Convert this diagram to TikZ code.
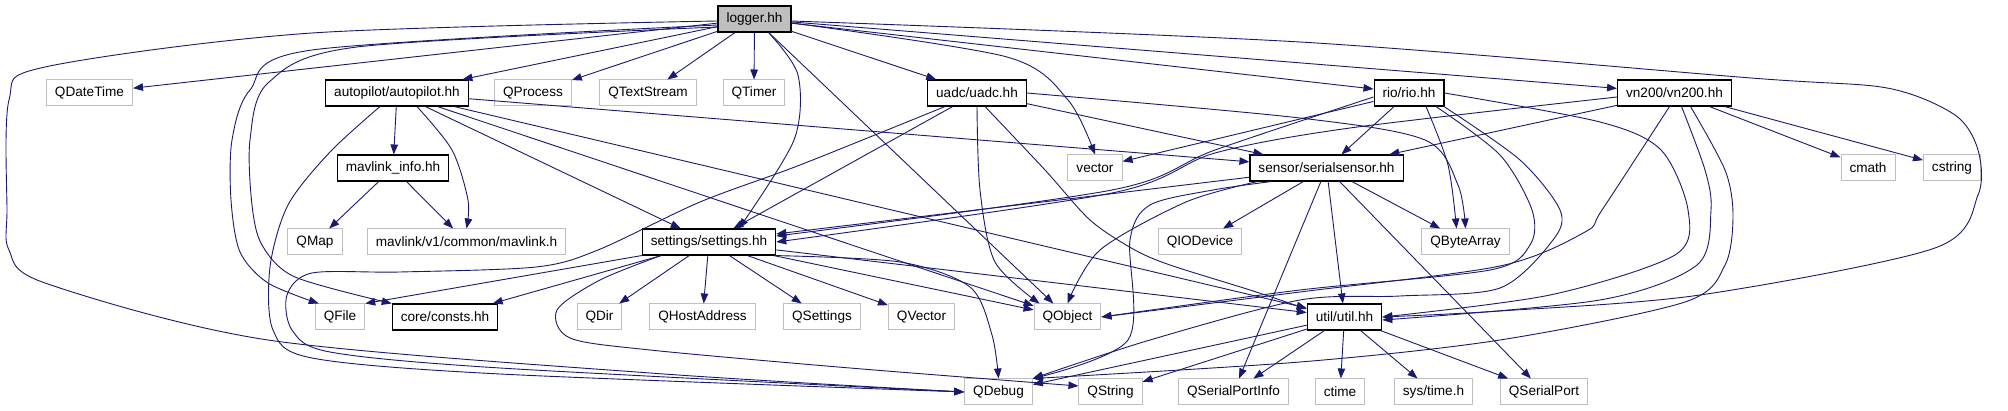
\documentclass[tikz,border=0pt]{standalone}
\usepackage{fontspec}
\setmainfont{Liberation Sans}
\usetikzlibrary{arrows.meta,calc}
\definecolor{depblue}{RGB}{25,25,112}
\definecolor{sysgray}{RGB}{191,191,191}

\begin{document}
\begin{tikzpicture}[x=1pt, y=-1pt, >={Triangle[length=10pt,width=7.5pt]},
    hdr/.style={draw=black, line width=1.1pt, fill=white, minimum height=26pt,
        inner xsep=8.5pt, inner ysep=0pt, font=\fontsize{13.6}{16}\selectfont},
    syshdr/.style={hdr, draw=sysgray, line width=1pt},
    roothdr/.style={hdr, fill=sysgray},
    dep/.style={->, depblue, line width=0.9pt}]
    \useasboundingbox (0,0) rectangle (2008,411);

    % Headers
    \node[roothdr] (logger) at (754.5,19) {logger.hh};
    \node[syshdr] (qdatetime) at (89.5,93) {QDateTime};
    \node[hdr] (autopilot) at (397,93) {autopilot/autopilot.hh};
    \node[syshdr] (qprocess) at (533,93) {QProcess};
    \node[syshdr] (qtextstream) at (648,93) {QTextStream};
    \node[syshdr] (qtimer) at (754,93) {QTimer};
    \node[hdr] (uadc) at (977,93) {uadc/uadc.hh};
    \node[hdr] (rio) at (1409,93) {rio/rio.hh};
    \node[hdr] (vn200) at (1674.5,93) {vn200/vn200.hh};
    \node[hdr] (mavlinkinfo) at (393,168) {mavlink\_info.hh};
    \node[syshdr] (vector) at (1095,168) {vector};
    \node[hdr] (sensor) at (1326.5,168) {sensor/serialsensor.hh};
    \node[syshdr] (cmath) at (1868,168) {cmath};
    \node[syshdr] (cstring) at (1952,168) {cstring};
    \node[syshdr] (qmap) at (315,242) {QMap};
    \node[syshdr] (mavlinkh) at (466.5,242) {mavlink/v1/common/mavlink.h};
    \node[hdr] (settings) at (709,242) {settings/settings.hh};
    \node[syshdr] (qiodevice) at (1200,242) {QIODevice};
    \node[syshdr] (qbytearray) at (1465.5,242) {QByteArray};
    \node[syshdr] (qfile) at (340,317) {QFile};
    \node[hdr] (consts) at (445,317) {core/consts.hh};
    \node[syshdr] (qdir) at (599.5,317) {QDir};
    \node[syshdr] (qhostaddress) at (702.5,317) {QHostAddress};
    \node[syshdr] (qsettings) at (822,317) {QSettings};
    \node[syshdr] (qvector) at (921.5,317) {QVector};
    \node[syshdr] (qobject) at (1067.5,317) {QObject};
    \node[hdr] (util) at (1344.5,317) {util/util.hh};
    \node[syshdr] (qdebug) at (998.5,392) {QDebug};
    \node[syshdr] (qstring) at (1110.5,392) {QString};
    \node[syshdr] (qserialportinfo) at (1233.5,392) {QSerialPortInfo};
    \node[syshdr] (ctime) at (1340,392) {ctime};
    \node[syshdr] (systime) at (1433.5,392) {sys/time.h};
    \node[syshdr] (qserialport) at (1544,392) {QSerialPort};

    % logger.hh
    \draw[dep] (logger) -- (qdatetime);
    \draw[dep] (logger) -- (autopilot);
    \draw[dep] (logger) -- (qprocess);
    \draw[dep] (logger) -- (qtextstream);
    \draw[dep] (logger) -- (qtimer);
    \draw[dep] (logger) -- (uadc);
    \draw[dep] (logger) -- (rio);
    \draw[dep] (logger) -- (vn200);
    \draw[dep] (logger) -- (qobject);
    \draw[dep] plot[smooth] coordinates {($(logger.east)+(0,4)$) (1007,57) (1068,100) (vector.north)};
    \draw[dep] plot[smooth] coordinates {($(logger.south)+(14,0)$) (798,75) (794,140) ($(settings.north)+(30,0)$)};
    \draw[dep] plot[smooth] coordinates {($(logger.west)+(0,6)$) (312,50) (250,90) (232,140) (231,200) (240,252) (268,283) ($(qfile.north west)+(4,0)$)};
    \draw[dep] plot[smooth] coordinates {($(logger.west)+(0,8)$) (357,47) (268,83) (250,140) (252,205) (262,245) (295,277) (consts.north west)};
    \draw[dep] plot[smooth] coordinates {($(logger.west)+(0,2)$) (312,33) (45,67) (9,100) (7,210) (9,250) (45,283) (268,340) (650,373) (qdebug.west)};
    \draw[dep] plot[smooth] coordinates {($(logger.east)+(0,2)$) (1300,42) (1751,78) (1887,88) (1955,115) (1978,150) (1978,195) (1935,248) (1700,295) (1500,311) (util.east)};

    % autopilot.hh
    \draw[dep] (autopilot) -- (mavlinkinfo);
    \draw[dep] (autopilot) -- (settings);
    \draw[dep] (autopilot) -- (qobject);
    \draw[dep] (autopilot) -- (util);
    \draw[dep] (autopilot) -- (sensor);
    \draw[dep] plot[smooth] coordinates {($(autopilot.south)+(20,0)$) (452,150) (468,200) (mavlinkh.north)};
    \draw[dep] plot[smooth] coordinates {($(autopilot.south)+(-17,0)$) (330,152) (288,205) (270,267) (273,330) (312,358) (500,374) (qdebug.west)};

    % mavlink_info.hh
    \draw[dep] (mavlinkinfo) -- (qmap);
    \draw[dep] (mavlinkinfo) -- (mavlinkh);

    % uadc.hh
    \draw[dep] (uadc) -- (settings);
    \draw[dep] (uadc) -- (sensor);
    \draw[dep] plot[smooth] coordinates {($(uadc.south)+(-32,0)$) (800,165) (700,202) (598,250) (536,267) (400,272) (312,273) (287,295) (292,330) (330,352) (500,368) (qdebug.west)};
    \draw[dep] plot[smooth] coordinates {(uadc.south) (980,190) (995,262) ($(qobject.north west)+(6,0)$)};
    \draw[dep] plot[smooth] coordinates {($(uadc.south)+(8,0)$) (1045,170) (1090,220) (1133,249) (1170,265) (1250,290) ($(util.west)+(0,-8)$)};
    \draw[dep] plot[smooth] coordinates {(uadc.east) (1300,118) (1425,140) (1458,185) (qbytearray.north)};

    % rio.hh
    \draw[dep] (rio) -- (vector);
    \draw[dep] (rio) -- (sensor);
    \draw[dep] plot[smooth] coordinates {($(rio.west)+(0,4)$) (1215,150) (1112,190) ($(settings.east)+(0,-6)$)};
    \draw[dep] plot[smooth] coordinates {($(rio.south)+(17,0)$) (1448,165) ($(qbytearray.north)+(-9,0)$)};
    \draw[dep] plot[smooth] coordinates {($(rio.south)+(27,0)$) (1500,155) (1532,210) (1530,245) (1490,270) (1300,290) (qobject.east)};
    \draw[dep] plot[smooth] coordinates {($(rio.south)+(35,0)$) (1520,160) (1560,210) (1553,240) (1500,288) (1400,296) (1300,300) (1150,340) (qdebug.north east)};
    \draw[dep] plot[smooth] coordinates {(rio.east) (1600,122) (1661,150) (1688,210) (1675,255) (1550,295) (util.east)};

    % vn200.hh
    \draw[dep] (vn200) -- (sensor);
    \draw[dep] (vn200) -- (cmath);
    \draw[dep] (vn200) -- (cstring);
    \draw[dep] plot[smooth] coordinates {($(vn200.west)+(0,4)$) (1350,128) (1215,153) (1112,193) (settings.east)};
    \draw[dep] plot[smooth] coordinates {($(vn200.south)+(-5,0)$) (1602,210) (1585,232) (1500,266) (1300,292) (qobject.east)};
    \draw[dep] plot[smooth] coordinates {($(vn200.south)+(7,0)$) (1705,170) (1711,210) (1697,265) (1600,300) ($(util.east)+(0,3)$)};
    \draw[dep] plot[smooth] coordinates {($(vn200.south)+(16,0)$) (1725,170) (1733,215) (1725,265) (1685,302) (1500,340) (1300,362) (qdebug.north east)};

    % serialsensor.hh
    \draw[dep] (sensor) -- (settings);
    \draw[dep] (sensor) -- (qiodevice);
    \draw[dep] (sensor) -- (qbytearray);
    \draw[dep] (sensor) -- (util);
    \draw[dep] (sensor) -- (qserialportinfo);
    \draw[dep] (sensor) -- (qserialport);
    \draw[dep] plot[smooth] coordinates {($(sensor.south west)+(8,0)$) (1186,202) (1100,250) (qobject.north)};
    \draw[dep] plot[smooth] coordinates {($(sensor.south west)+(22,0)$) (1213,190) (1150,205) (1130,240) (1128,340) (qdebug.north east)};

    % settings.hh
    \draw[dep] (settings.south west) -- (qfile.north east);
    \draw[dep] (settings) -- (consts);
    \draw[dep] (settings) -- (qdir);
    \draw[dep] (settings) -- (qhostaddress);
    \draw[dep] (settings) -- (qsettings);
    \draw[dep] (settings) -- (qvector);
    \draw[dep] (settings) -- (qobject);
    \draw[dep] (settings) -- (util);
    \draw[dep] plot[smooth] coordinates {($(settings.south east)+(-2,0)$) (900,262) (970,287) (992,335) (qdebug.north)};
    \draw[dep] plot[smooth] coordinates {($(settings.south)+(-48,0)$) (600,280) (557,310) (570,338) (650,350) (850,368) ($(qstring.west)+(0,-6)$)};

    % util.hh
    \draw[dep] (util) -- (qdebug);
    \draw[dep] (util) -- (qstring);
    \draw[dep] (util) -- (qserialportinfo);
    \draw[dep] (util) -- (ctime);
    \draw[dep] (util) -- (systime);
    \draw[dep] (util) -- (qserialport);
\end{tikzpicture}
\end{document}
